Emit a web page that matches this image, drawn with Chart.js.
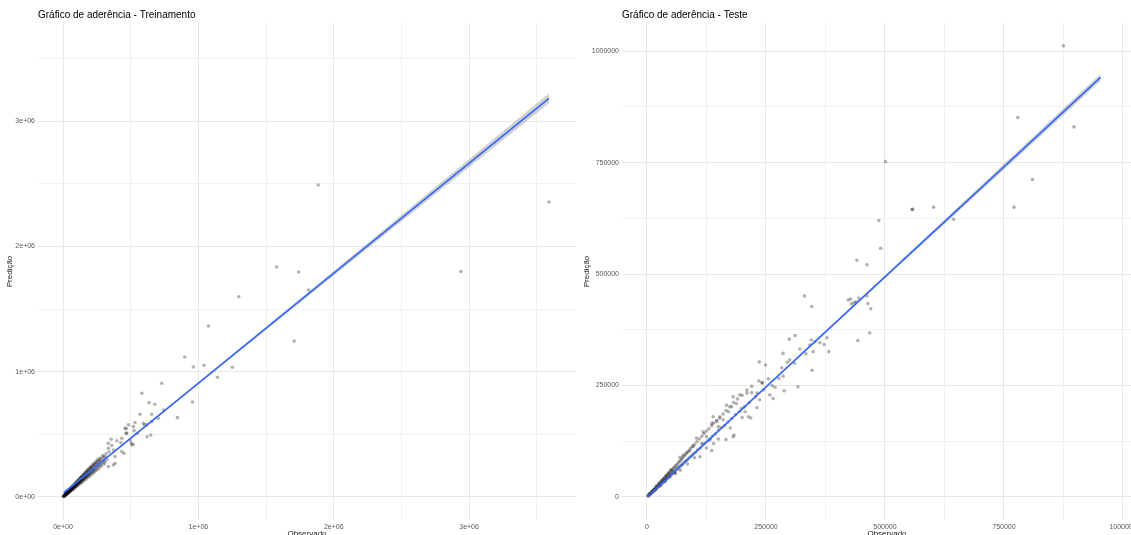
<!DOCTYPE html>
<html lang="pt-BR">
<head>
<meta charset="utf-8">
<title>Gráfico de aderência</title>
<script src="https://cdn.jsdelivr.net/npm/chart.js@4.4.1/dist/chart.umd.min.js"></script>
<style>
  html, body { margin: 0; padding: 0; background: #fff; overflow: hidden; }
  #painel-treino { position: absolute; left: 0; top: 0; }
  #painel-teste { position: absolute; left: 580px; top: 0; }
</style>
</head>
<body>
<canvas id="painel-treino" width="580" height="535"></canvas>
<canvas id="painel-teste" width="580" height="535"></canvas>
<script>
// ---------- Treinamento: pares [observado, predição] ----------
const treinoPontos = [
  [3e3,4e3],[5e3,6e3],[6e3,5e3],[8e3,9e3],[9e3,7e3],[10e3,12e3],[11e3,10e3],[12e3,13e3],[14e3,12e3],[15e3,17e3],
  [16e3,15e3],[18e3,20e3],[19e3,17e3],[20e3,22e3],[21e3,19e3],[22e3,25e3],[24e3,22e3],[25e3,28e3],[26e3,24e3],[28e3,31e3],
  [29e3,26e3],[30e3,33e3],[31e3,29e3],[33e3,37e3],[34e3,31e3],[35e3,39e3],[36e3,34e3],[38e3,42e3],[39e3,36e3],[40e3,45e3],
  [41e3,38e3],[43e3,48e3],[44e3,41e3],[45e3,50e3],[47e3,44e3],[48e3,54e3],[49e3,46e3],[50e3,57e3],[52e3,49e3],[53e3,60e3],
  [55e3,52e3],[56e3,63e3],[58e3,55e3],[59e3,66e3],[60e3,58e3],[62e3,70e3],[63e3,60e3],[65e3,74e3],[66e3,62e3],[68e3,76e3],
  [70e3,66e3],[71e3,80e3],[73e3,69e3],[75e3,85e3],[76e3,72e3],[78e3,88e3],[80e3,76e3],[81e3,92e3],[83e3,79e3],[85e3,96e3],
  [87e3,82e3],[88e3,100e3],[90e3,86e3],[92e3,104e3],[94e3,89e3],[95e3,110e3],[97e3,92e3],[99e3,113e3],[100e3,96e3],[103e3,118e3],
  [105e3,100e3],[107e3,122e3],[110e3,104e3],[112e3,128e3],[114e3,108e3],[116e3,120e3],[118e3,135e3],[120e3,113e3],[122e3,140e3],[125e3,118e3],
  [127e3,132e3],[129e3,148e3],[131e3,124e3],[133e3,152e3],[135e3,128e3],[138e3,158e3],[140e3,133e3],[142e3,150e3],[145e3,165e3],[147e3,138e3],
  [150e3,172e3],[152e3,144e3],[155e3,160e3],[157e3,178e3],[160e3,150e3],[162e3,185e3],[165e3,155e3],[168e3,176e3],[170e3,195e3],[173e3,162e3],
  [176e3,200e3],[178e3,168e3],[180e3,188e3],[183e3,210e3],[186e3,175e3],[190e3,215e3],[193e3,182e3],[196e3,205e3],[200e3,228e3],[203e3,190e3],
  [207e3,235e3],[210e3,198e3],[214e3,222e3],[218e3,245e3],[222e3,205e3],[226e3,250e3],[230e3,215e3],[235e3,262e3],[240e3,225e3],[245e3,258e3],
  [250e3,275e3],[255e3,240e3],[260e3,285e3],[265e3,250e3],[270e3,292e3],[278e3,260e3],[285e3,305e3],[290e3,270e3],[300e3,318e3],[310e3,280e3],
  [12e3,9e3],[18e3,24e3],[25e3,19e3],[32e3,42e3],[38e3,30e3],[45e3,58e3],[52e3,42e3],[58e3,72e3],[64e3,52e3],[70e3,88e3],
  [77e3,62e3],[84e3,105e3],[90e3,74e3],[96e3,118e3],[102e3,84e3],[108e3,133e3],[115e3,95e3],[121e3,148e3],[128e3,106e3],[134e3,162e3],
  [141e3,118e3],[148e3,178e3],[154e3,130e3],[161e3,195e3],[168e3,142e3],[175e3,210e3],[182e3,155e3],[188e3,225e3],[195e3,166e3],[202e3,240e3],
  [208e3,178e3],[215e3,255e3],[222e3,190e3],[228e3,268e3],[236e3,204e3],[242e3,282e3],[250e3,215e3],[256e3,298e3],[264e3,228e3],[272e3,310e3],
  [282e3,245e3],[292e3,330e3],[305e3,262e3],[318e3,345e3],[325e3,300e3],[340e3,360e3],[300e3,290e3],[280e3,285e3],[260e3,262e3],[240e3,242e3],
  [220e3,224e3],[200e3,205e3],[180e3,184e3],[160e3,165e3],[140e3,144e3],[120e3,124e3],[100e3,104e3],[80e3,84e3],[60e3,63e3],[40e3,42e3],
  [20e3,21e3],
  [3590e3,2354e3],[1885e3,2490e3],[2940e3,1800e3],[1578e3,1836e3],[1740e3,1795e3],[1814e3,1652e3],[1708e3,1244e3],[1298e3,1598e3],
  [1074e3,1365e3],[899e3,1117e3],[963e3,1037e3],[1042e3,1051e3],[1251e3,1035e3],[1140e3,955e3],[729e3,907e3],[582e3,828e3],
  [636e3,753e3],[678e3,740e3],[956e3,758e3],[744e3,694e3],[569e3,660e3],[655e3,660e3],[845e3,633e3],[655e3,601e3],
  [532e3,593e3],[483e3,575e3],[601e3,575e3],[466e3,545e3],[525e3,529e3],[466e3,508e3],[549e3,508e3],[648e3,495e3],
  [621e3,481e3],[355e3,460e3],[397e3,449e3],[426e3,433e3],[503e3,433e3],[518e3,420e3],[360e3,410e3],[335e3,389e3],
  [434e3,362e3],[451e3,349e3],[384e3,322e3],[372e3,255e3],[335e3,428e3],[310e3,322e3],[384e3,269e3],[335e3,242e3],
  [372e3,375e3],[434e3,468e3],[471e3,508e3],[458e3,548e3],[520e3,561e3],[593e3,588e3],[704e3,628e3],[619e3,575e3],
  [508e3,415e3],[495e3,455e3]
];
// reta ajustada (lm) e faixa de confiança
const treinoAjusteX = [5e3, 3590e3];
const treinoAjusteY = [34e3, 3182e3];
const treinoBandaX   = [5e3, 450e3, 900e3, 1800e3, 2700e3, 3590e3];
const treinoBandaInf = [25e3, 419e3, 812e3, 1594e3, 2373e3, 3142e3];
const treinoBandaSup = [43e3, 431e3, 828e3, 1626e3, 2429e3, 3222e3];
const treinoQuebras = [0, 1e6, 2e6, 3e6];
const treinoRotulos = ['0e+00', '1e+06', '2e+06', '3e+06'];
const treinoMenores = [5e5, 15e5, 25e5, 35e5];

// ---------- Teste: pares [observado, predição] ----------
const testePontos = [
  [2e3,3e3],[3e3,2e3],[4e3,5e3],[5e3,4e3],[6e3,7e3],[7e3,6e3],[8e3,9e3],[9e3,8e3],[10e3,11e3],[11e3,10e3],
  [12e3,14e3],[13e3,12e3],[14e3,16e3],[15e3,14e3],[16e3,18e3],[17e3,16e3],[18e3,21e3],[19e3,18e3],[20e3,23e3],[21e3,20e3],
  [22e3,25e3],[23e3,22e3],[24e3,27e3],[25e3,24e3],[26e3,30e3],[27e3,26e3],[28e3,32e3],[29e3,28e3],[30e3,34e3],[31e3,30e3],
  [32e3,37e3],[33e3,32e3],[34e3,39e3],[35e3,34e3],[36e3,41e3],[37e3,36e3],[38e3,44e3],[39e3,38e3],[40e3,46e3],[41e3,40e3],
  [42e3,49e3],[43e3,42e3],[44e3,50e3],[45e3,44e3],[46e3,53e3],[47e3,46e3],[48e3,55e3],[49e3,48e3],[50e3,58e3],[51e3,50e3],
  [52e3,60e3],[53e3,52e3],[54e3,62e3],[55e3,56e3],[56e3,65e3],[57e3,55e3],[58e3,67e3],[59e3,58e3],[60e3,70e3],[62e3,61e3],
  [63e3,73e3],[64e3,66e3],[65e3,76e3],[66e3,64e3],[68e3,79e3],[69e3,68e3],[70e3,82e3],[72e3,71e3],[73e3,85e3],[74e3,73e3],
  [75e3,88e3],[77e3,76e3],[78e3,92e3],[80e3,79e3],[81e3,95e3],[83e3,82e3],[85e3,100e3],[86e3,85e3],[88e3,103e3],[90e3,89e3],
  [92e3,110e3],[94e3,93e3],[96e3,114e3],[98e3,97e3],[100e3,118e3],[102e3,100e3],[105e3,124e3],[107e3,106e3],[110e3,130e3],[112e3,110e3],
  [115e3,136e3],[118e3,118e3],[120e3,142e3],[122e3,121e3],[125e3,148e3],[128e3,126e3],[130e3,153e3],[133e3,131e3],[136e3,160e3],[138e3,137e3],
  [140e3,166e3],[144e3,142e3],[147e3,172e3],[150e3,150e3],[153e3,180e3],[156e3,156e3],[160e3,186e3],[163e3,160e3],[166e3,194e3],[170e3,168e3],
  [174e3,202e3],[178e3,176e3],[182e3,212e3],[186e3,185e3],[190e3,220e3],[195e3,192e3],[200e3,228e3],[205e3,202e3],[210e3,240e3],[215e3,212e3],
  [220e3,248e3],[228e3,225e3],[235e3,260e3],[245e3,240e3],
  [5e3,7e3],[10e3,13e3],[15e3,18e3],[20e3,25e3],[25e3,31e3],[30e3,37e3],[35e3,42e3],[40e3,48e3],[45e3,54e3],[50e3,61e3],
  [18e3,16e3],[28e3,25e3],[38e3,35e3],[48e3,45e3],[58e3,55e3],
  [60e3,52e3],[85e3,74e3],[100e3,88e3],[125e3,110e3],[150e3,130e3],[175e3,155e3],[200e3,178e3],[140e3,120e3],[70e3,60e3],
  [875e3,1012e3],[779e3,851e3],[897e3,830e3],[501e3,752e3],[810e3,712e3],[771e3,650e3],[557e3,645e3],[558e3,645e3],
  [602e3,650e3],[644e3,623e3],[487e3,620e3],[491e3,558e3],[441e3,531e3],[462e3,521e3],[331e3,451e3],[346e3,427e3],
  [423e3,442e3],[428e3,444e3],[430e3,433e3],[435e3,436e3],[439e3,438e3],[445e3,446e3],[462e3,451e3],[464e3,434e3],
  [470e3,422e3],[468e3,368e3],[443e3,351e3],[299e3,354e3],[311e3,362e3],[345e3,352e3],[353e3,348e3],[363e3,346e3],
  [372e3,342e3],[378e3,357e3],[382e3,326e3],[321e3,332e3],[342e3,341e3],[334e3,321e3],[349e3,326e3],[347e3,284e3],
  [317e3,247e3],[286e3,322e3],[295e3,302e3],[300e3,307e3],[310e3,300e3],[283e3,290e3],[277e3,266e3],[286e3,271e3],
  [288e3,238e3],[236e3,303e3],[249e3,296e3],[242e3,257e3],[255e3,265e3],[263e3,250e3],[269e3,246e3],[242e3,255e3],
  [258e3,229e3],[265e3,221e3],[231e3,233e3],[181e3,225e3],[195e3,229e3],[210e3,233e3],[220e3,234e3],[237e3,218e3],
  [167e3,206e3],[178e3,203e3],[188e3,209e3],[199e3,199e3],[171e3,191e3],[213e3,180e3],[218e3,177e3],[231e3,200e3],
  [206e3,191e3],[139e3,180e3],[146e3,169e3],[153e3,177e3],[160e3,173e3],[136e3,165e3],[150e3,158e3],[181e3,135e3],
  [166e3,129e3],[183e3,139e3],[118e3,146e3],[125e3,135e3],[132e3,128e3],[104e3,132e3],[115e3,120e3],[97e3,113e3],
  [90e3,105e3],[83e3,99e3],[76e3,94e3],[69e3,89e3],[111e3,90e3],[136e3,104e3]
];
const testeAjusteX = [1e3, 953e3];
const testeAjusteY = [1e3, 941e3];
const testeBandaX   = [1e3, 240e3, 480e3, 720e3, 953e3];
const testeBandaInf = [-0.5e3, 235.5e3, 471e3, 705e3, 933e3];
const testeBandaSup = [2.5e3, 238.5e3, 477e3, 717e3, 949e3];
const testeQuebras = [0, 250000, 500000, 750000, 1000000];
const testeRotulos = ['0', '250000', '500000', '750000', '1000000'];
const testeMenores = [125000, 375000, 625000, 875000];

const FONTE = '"Liberation Sans", Arial, sans-serif';

// título, rótulos dos eixos
const rotulosPainel = {
  id: 'rotulosPainel',
  afterDraw(chart, args, opts) {
    const { ctx, chartArea } = chart;
    ctx.save();
    ctx.fillStyle = '#000';
    ctx.textBaseline = 'middle';
    ctx.font = '10px ' + FONTE;
    ctx.textAlign = 'left';
    ctx.fillText(opts.titulo, chartArea.left, 15);
    ctx.font = '8px ' + FONTE;
    ctx.fillStyle = '#1a1a1a';
    ctx.textAlign = 'center';
    ctx.fillText('Observado', (chartArea.left + chartArea.right) / 2, chartArea.bottom + 14);
    ctx.translate(opts.eixoYx, (chartArea.top + chartArea.bottom) / 2);
    ctx.rotate(-Math.PI / 2);
    ctx.fillText('Predição', 0, 0);
    ctx.restore();
  }
};

function zip(xs, ys) {
  return xs.map((x, i) => ({ x: x, y: ys[i] }));
}

function eixo(limites, quebras, rotulos, menores, tamanho, horizontal) {
  return {
    type: 'linear',
    min: limites[0],
    max: limites[1],
    offset: false,
    border: { display: false },
    afterBuildTicks: s => {
      s.ticks = quebras.concat(menores).sort((a, b) => a - b).map(v => ({ value: v }));
    },
    afterFit: s => {
      if (horizontal) s.height = tamanho; else s.width = tamanho;
    },
    grid: {
      drawTicks: false,
      color: c => quebras.includes(c.tick.value) ? '#e8e8e8' : '#f1f1f1',
      lineWidth: 1
    },
    ticks: {
      padding: 3,
      autoSkip: false,
      maxRotation: 0,
      color: '#595959',
      font: { family: FONTE, size: 7 },
      callback: v => {
        const i = quebras.indexOf(v);
        return i >= 0 ? rotulos[i] : '';
      }
    }
  };
}

function painel(id, cfg) {
  return new Chart(document.getElementById(id), {
    type: 'scatter',
    data: {
      datasets: [
        {
          type: 'line', order: 0,
          data: zip(cfg.ajusteX, cfg.ajusteY),
          borderColor: '#3366FF', borderWidth: 1.6,
          pointRadius: 0, fill: false
        },
        {
          type: 'line', order: 1,
          data: zip(cfg.bandaX, cfg.bandaInf),
          borderWidth: 0, pointRadius: 0, fill: false
        },
        {
          type: 'line', order: 1,
          data: zip(cfg.bandaX, cfg.bandaSup),
          borderWidth: 0, pointRadius: 0,
          fill: '-1', backgroundColor: 'rgba(153,153,153,0.45)'
        },
        {
          order: 2,
          data: cfg.pontos.map(p => ({ x: p[0], y: p[1] })),
          backgroundColor: 'rgba(0,0,0,0.3)',
          borderWidth: 0, pointRadius: 1.8
        }
      ]
    },
    options: {
      responsive: false,
      animation: false,
      events: [],
      layout: { padding: { top: 23, right: cfg.direita, bottom: 0, left: 0 } },
      plugins: {
        legend: { display: false },
        tooltip: { enabled: false },
        rotulosPainel: { titulo: cfg.titulo, eixoYx: cfg.eixoYx }
      },
      scales: {
        x: eixo(cfg.limX, cfg.quebras, cfg.rotulos, cfg.menores, 15, true),
        y: eixo(cfg.limY, cfg.quebras, cfg.rotulos, cfg.menores, cfg.larguraY, false)
      }
    },
    plugins: [rotulosPainel]
  });
}

painel('painel-treino', {
  titulo: 'Gráfico de aderência - Treinamento',
  pontos: treinoPontos,
  ajusteX: treinoAjusteX, ajusteY: treinoAjusteY,
  bandaX: treinoBandaX, bandaInf: treinoBandaInf, bandaSup: treinoBandaSup,
  quebras: treinoQuebras, rotulos: treinoRotulos, menores: treinoMenores,
  limX: [-185e3, 3790e3], limY: [-184e3, 3783e3],
  larguraY: 38, direita: 4, eixoYx: 10
});

painel('painel-teste', {
  titulo: 'Gráfico de aderência - Teste',
  pontos: testePontos,
  ajusteX: testeAjusteX, ajusteY: testeAjusteY,
  bandaX: testeBandaX, bandaInf: testeBandaInf, bandaSup: testeBandaSup,
  quebras: testeQuebras, rotulos: testeRotulos, menores: testeMenores,
  limX: [-52.5e3, 1061e3], limY: [-51.6e3, 1063e3],
  larguraY: 42, direita: 8, eixoYx: 7
});
</script>
</body>
</html>
